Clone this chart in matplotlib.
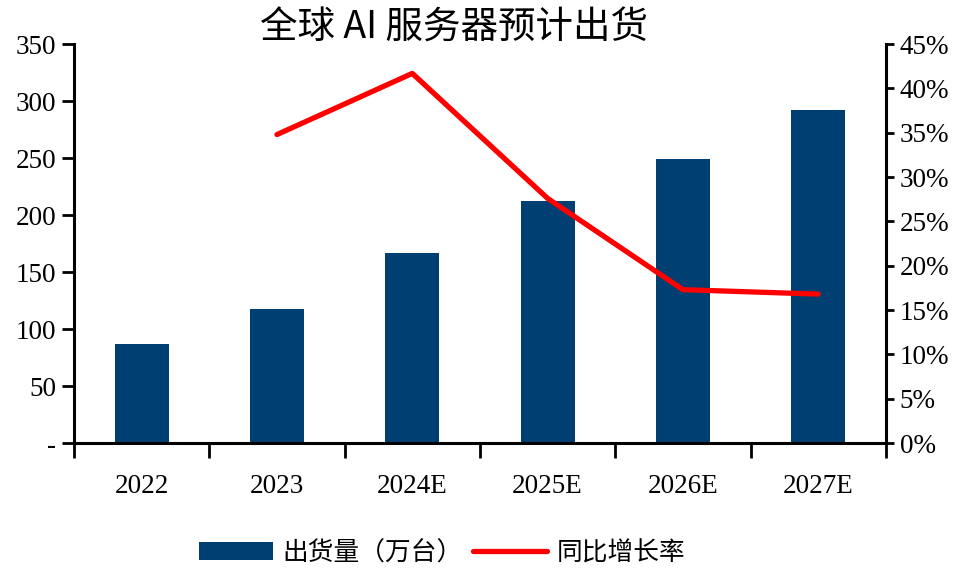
import matplotlib
matplotlib.use("Agg")
import matplotlib.pyplot as plt
from matplotlib.ticker import FuncFormatter, FixedLocator

categories = ["2022", "2023", "2024E", "2025E", "2026E", "2027E"]
shipments = [87, 118, 167, 212, 249, 292]
growth = [None, 34.8, 41.7, 27.6, 17.3, 16.8]
left_ticks = [0, 50, 100, 150, 200, 250, 300, 350]
right_ticks = [0, 5, 10, 15, 20, 25, 30, 35, 40, 45]

cjk = ["Noto Sans CJK SC", "DejaVu Sans"]
serif = ["Liberation Serif", "DejaVu Serif"]

fig = plt.figure(figsize=(9.8, 5.81), dpi=100)
ax = fig.add_axes([0.0755, 0.2375, 0.8285, 0.6865])
ax2 = ax.twinx()

x = list(range(len(categories)))
bars = ax.bar(x, shipments, width=0.4, color="#003F72", label="出货量（万台）", zorder=2)
gx = [i for i, g in zip(x, growth) if g is not None]
gy = [g for g in growth if g is not None]
line, = ax2.plot(gx, gy, color="#FF0000", lw=3.8, solid_capstyle="round", label="同比增长率", zorder=3)

ax.set_xlim(-0.5, len(categories) - 0.5)
ax.set_ylim(0, 350)
ax2.set_ylim(0, 45)
ax.set_yticks(left_ticks)
ax.yaxis.set_major_formatter(FuncFormatter(lambda v, p: "-" if v == 0 else f"{int(v)}"))
ax2.set_yticks(right_ticks)
ax2.yaxis.set_major_formatter(FuncFormatter(lambda v, p: f"{int(v)}%"))

ax.set_xticks(x)
ax.set_xticklabels(categories)
ax.xaxis.set_minor_locator(FixedLocator([i - 0.5 for i in range(len(categories) + 1)]))
ax.tick_params(axis="x", which="major", length=0, pad=22)
ax.tick_params(axis="x", which="minor", length=11, width=2, direction="out")
ax.tick_params(axis="y", length=9, width=2, direction="out", pad=4)
ax2.tick_params(axis="y", length=6, width=2, direction="out", pad=4)

for a in (ax, ax2):
    a.spines["top"].set_visible(False)
    for lab in a.get_yticklabels() + a.get_xticklabels():
        lab.set_fontfamily(serif)
        lab.set_fontsize(19.5)
ax.spines["right"].set_visible(False)
ax2.spines["left"].set_visible(False)
ax2.spines["bottom"].set_visible(False)
ax.spines["left"].set_linewidth(2.2)
ax.spines["bottom"].set_linewidth(2.2)
ax2.spines["right"].set_linewidth(2.2)

fig.text(0.463, 0.951, "全球 AI 服务器预计出货", ha="center", va="center",
         fontsize=27, family=cjk)

leg = fig.legend([bars, line], ["出货量（万台）", "同比增长率"], loc="center",
                 bbox_to_anchor=(0.451, 0.048), ncol=2, frameon=False,
                 prop={"family": cjk, "size": 18.5}, handlelength=2.9,
                 handleheight=0.74, columnspacing=0.4, handletextpad=0.35)

fig.savefig("out.png", dpi=100)
